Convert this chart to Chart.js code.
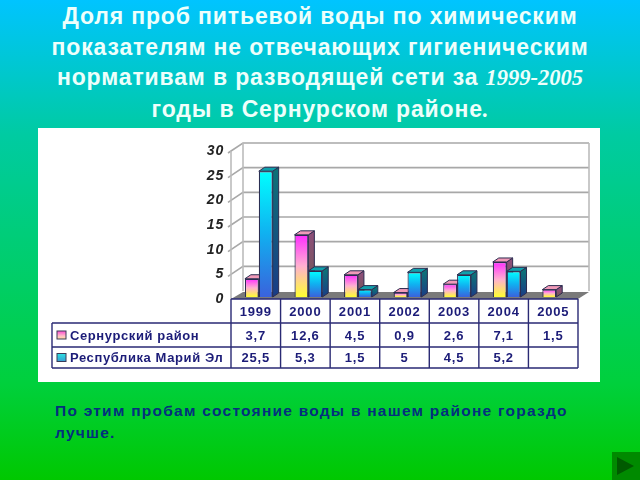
<!DOCTYPE html>
<html lang="ru">
<head>
<meta charset="utf-8">
<title>Доля проб питьевой воды</title>
<script src="https://cdn.jsdelivr.net/npm/chart.js@4"></script>
<style>
  html, body { margin: 0; padding: 0; }
  body {
    position: relative; width: 640px; height: 480px; overflow: hidden;
    background: linear-gradient(180deg, #00c4ff 0%, #00cba2 28%, #00d03c 80%, #00c800 100%);
    font-family: "Liberation Sans", Arial, sans-serif;
  }
  #title {
    position: absolute; left: 0; top: 0; width: 640px; text-align: center;
    color: #eefffb; font-weight: bold; font-size: 23px; letter-spacing: 0.85px; line-height: 30.5px; padding-top: 1px;
  }
  #title i { font-family: "Liberation Serif", serif; font-weight: bold; font-size: 22.5px; letter-spacing: 0; }
  #title span { display: block; white-space: nowrap; }
  #panel { position: absolute; left: 38px; top: 128px; width: 562px; height: 254px; background: #fff; }
  #note {
    position: absolute; left: 55px; top: 400px; width: 530px; color: #04307e;
    font-weight: bold; font-size: 15.5px; line-height: 22px; letter-spacing: 1.25px; white-space: nowrap;
  }
  #next { position: absolute; left: 612px; top: 452px; width: 28px; height: 28px; background: #008a00; }
  #next div {
    position: absolute; left: 5px; top: 5px; width: 0; height: 0;
    border-left: 17px solid #005a00; border-top: 9px solid transparent; border-bottom: 9px solid transparent;
  }
</style>
</head>
<body>
<div id="title">
  <span>Доля проб питьевой воды по химическим</span>
  <span>показателям не отвечающих гигиеническим</span>
  <span>нормативам в разводящей сети за <i>1999-2005</i></span>
  <span>годы в Сернурском районе<i>.</i></span>
</div>
<div id="panel"><canvas id="myChart" width="562" height="254"></canvas></div>
<div id="note">По этим пробам состояние воды в нашем районе гораздо<br>лучше.</div>
<div id="next"><div></div></div>

<script>
const years = ["1999", "2000", "2001", "2002", "2003", "2004", "2005"];
const seriesNames = ["Сернурский район", "Республика Марий Эл"];
const sernurValues = [3.7, 12.6, 4.5, 0.9, 2.6, 7.1, 1.5];
const mariValues = [25.5, 5.3, 1.5, 5, 4.5, 5.2, null];

const INK = "#1c1c78";
const DEPTH_X = 6, DEPTH_Y = 4;      // depth of a bar
const WALL_X = 12, WALL_Y = 8;       // depth of the floor and walls
const looks = [
  { stops: ["#ff2cff", "#ffb0d0", "#ffff30"], key: ["#ff60d0", "#ffc0c8", "#ffe890"], side: ["#8c4f78", "#6e5a50"], top: "#f09ab8" },
  { stops: ["#00ffff", "#10b0f0", "#3a62dc"], key: ["#30d8e0", "#30b8d8", "#4090d0"], side: ["#0d7078", "#1a3c86"], top: "#10a0ac" }
];

function barFill(i) {
  return (context) => {
    const chart = context.chart;
    if (!chart.chartArea || context.raw == null) return looks[i].stops[1];
    const y = chart.scales.y;
    const g = chart.ctx.createLinearGradient(0, y.getPixelForValue(context.raw), 0, y.getPixelForValue(0));
    looks[i].stops.forEach((c, n) => g.addColorStop(n / 2, c));
    return g;
  };
}

// floor, walls and the side faces of the bars
const box3d = {
  id: "box3d",
  beforeDraw(chart) {
    chart.ctx.letterSpacing = "0.8px";
  },
  beforeDatasetsDraw(chart) {
    const { ctx, chartArea: a, scales } = chart;
    ctx.save();
    ctx.letterSpacing = "0px";
    ctx.strokeStyle = "#a8a8a8";
    ctx.lineWidth = 1.6;
    scales.y.ticks.forEach((t) => {
      const py = scales.y.getPixelForValue(t.value);
      if (t.value === 0) return;
      ctx.beginPath();
      ctx.moveTo(a.left - 3, py + 2);
      ctx.lineTo(a.left + WALL_X, py - WALL_Y);
      ctx.lineTo(a.right + WALL_X - 1, py - WALL_Y);
      ctx.stroke();
    });
    ctx.strokeStyle = "#bcbcbc";
    ctx.beginPath();
    ctx.moveTo(a.left, a.bottom);
    ctx.lineTo(a.left, a.top);
    ctx.moveTo(a.left + WALL_X, a.bottom - WALL_Y);
    ctx.lineTo(a.left + WALL_X, a.top - WALL_Y);
    ctx.moveTo(a.right + WALL_X - 1, a.bottom - WALL_Y);
    ctx.lineTo(a.right + WALL_X - 1, a.top - WALL_Y);
    ctx.stroke();
    ctx.fillStyle = "#7a7a7a";
    ctx.beginPath();
    ctx.moveTo(a.left, a.bottom);
    ctx.lineTo(a.left + WALL_X, a.bottom - WALL_Y + 1);
    ctx.lineTo(a.right + WALL_X - 1, a.bottom - WALL_Y + 1);
    ctx.lineTo(a.right, a.bottom);
    ctx.closePath();
    ctx.fill();
    ctx.restore();

    // bars stand a little behind the front edge of the floor
    ctx.save();
    ctx.translate(3, -2);
    ctx.letterSpacing = "0px";
    ctx.strokeStyle = "#2c2c50";
    ctx.lineWidth = 1;
    chart.data.datasets.forEach((ds, i) => {
      chart.getDatasetMeta(i).data.forEach((bar, n) => {
        if (ds.data[n] == null) return;
        const half = bar.width / 2, l = bar.x - half, r = bar.x + half;
        const side = ctx.createLinearGradient(0, bar.y, 0, bar.base);
        side.addColorStop(0, looks[i].side[0]);
        side.addColorStop(1, looks[i].side[1]);
        ctx.fillStyle = side;
        ctx.beginPath();
        ctx.moveTo(r, bar.y);
        ctx.lineTo(r + DEPTH_X, bar.y - DEPTH_Y);
        ctx.lineTo(r + DEPTH_X, bar.base - DEPTH_Y);
        ctx.lineTo(r, bar.base);
        ctx.closePath();
        ctx.fill();
        ctx.stroke();
        ctx.fillStyle = looks[i].top;
        ctx.beginPath();
        ctx.moveTo(l, bar.y);
        ctx.lineTo(l + DEPTH_X, bar.y - DEPTH_Y);
        ctx.lineTo(r + DEPTH_X, bar.y - DEPTH_Y);
        ctx.lineTo(r, bar.y);
        ctx.closePath();
        ctx.fill();
        ctx.stroke();
      });
    });
  },
  afterDatasetsDraw(chart) {
    chart.ctx.restore();
  }
};

// data table under the plot, columns follow the x scale
const dataTable = {
  id: "dataTable",
  afterDraw(chart) {
    const { ctx, chartArea: a, scales } = chart;
    const x = scales.x;
    const rows = [sernurValues, mariValues];
    const head = a.bottom + 24, rowH = [24, 21];
    const tableLeft = 14;
    const colW = (a.right - a.left) / years.length;
    ctx.save();
    ctx.strokeStyle = "#2a2a74";
    ctx.lineWidth = 1.4;
    ctx.beginPath();
    ctx.moveTo(a.left, a.bottom);
    ctx.lineTo(a.right, a.bottom);
    [0, rowH[0], rowH[0] + rowH[1]].forEach((dy) => {
      ctx.moveTo(tableLeft, head + dy);
      ctx.lineTo(a.right, head + dy);
    });
    ctx.moveTo(tableLeft, head);
    ctx.lineTo(tableLeft, head + rowH[0] + rowH[1]);
    for (let i = 0; i <= years.length; i++) {
      ctx.moveTo(a.left + i * colW, a.bottom);
      ctx.lineTo(a.left + i * colW, head + rowH[0] + rowH[1]);
    }
    ctx.stroke();

    ctx.textBaseline = "middle";
    let rowY = head;
    rows.forEach((values, r) => {
      const mid = rowY + rowH[r] / 2 + 1;
      ctx.font = "bold 13px 'Liberation Sans', Arial, sans-serif";
      ctx.letterSpacing = "0.6px";
      ctx.textAlign = "left";
      ctx.fillStyle = INK;
      ctx.fillText(seriesNames[r], 32, mid);
      // legend key
      const g = ctx.createLinearGradient(0, mid - 4, 0, mid + 4);
      looks[r].key.forEach((c, n) => g.addColorStop(n / 2, c));
      ctx.fillStyle = g;
      ctx.fillRect(19, mid - 5, 9, 8);
      ctx.strokeStyle = "#3a3a58";
      ctx.lineWidth = 1;
      ctx.strokeRect(19, mid - 5, 9, 8);

      ctx.font = "bold 13px 'Liberation Sans', Arial, sans-serif";
      ctx.letterSpacing = "0.8px";
      ctx.textAlign = "center";
      ctx.fillStyle = INK;
      values.forEach((v, n) => {
        if (v == null) return;
        ctx.fillText(String(v).replace(".", ","), x.getPixelForTick(n), mid);
      });
      rowY += rowH[r];
    });
    ctx.restore();
  }
};

new Chart(document.getElementById("myChart").getContext("2d"), {
  type: "bar",
  data: {
    labels: years,
    datasets: [
      { label: seriesNames[0], data: sernurValues, backgroundColor: barFill(0), borderColor: "#2c2c50", borderWidth: 1.2, clip: false },
      { label: seriesNames[1], data: mariValues, backgroundColor: barFill(1), borderColor: "#2c2c50", borderWidth: 1.2, clip: false }
    ]
  },
  options: {
    responsive: false,
    animation: false,
    events: [],
    layout: { padding: { left: 163, right: 22, top: 23, bottom: 59 } },
    categoryPercentage: 0.56,
    barPercentage: 1,
    scales: {
      x: {
        grid: { display: false, tickLength: 0 },
        border: { display: false },
        afterFit(scale) { scale.height = 24; },
        ticks: { color: INK, padding: 6, maxRotation: 0, font: { family: "'Liberation Sans', Arial, sans-serif", size: 13, weight: "bold" } }
      },
      y: {
        min: 0,
        max: 30,
        grid: { display: false, tickLength: 0 },
        border: { display: false },
        afterFit(scale) { scale.width = 30; },
        ticks: { stepSize: 5, color: "#222", padding: 7, font: { family: "'Liberation Sans', Arial, sans-serif", size: 14, weight: "bold", style: "italic" } }
      }
    },
    plugins: { legend: { display: false }, title: { display: false }, tooltip: { enabled: false } }
  },
  plugins: [box3d, dataTable]
});
</script>
</body>
</html>
